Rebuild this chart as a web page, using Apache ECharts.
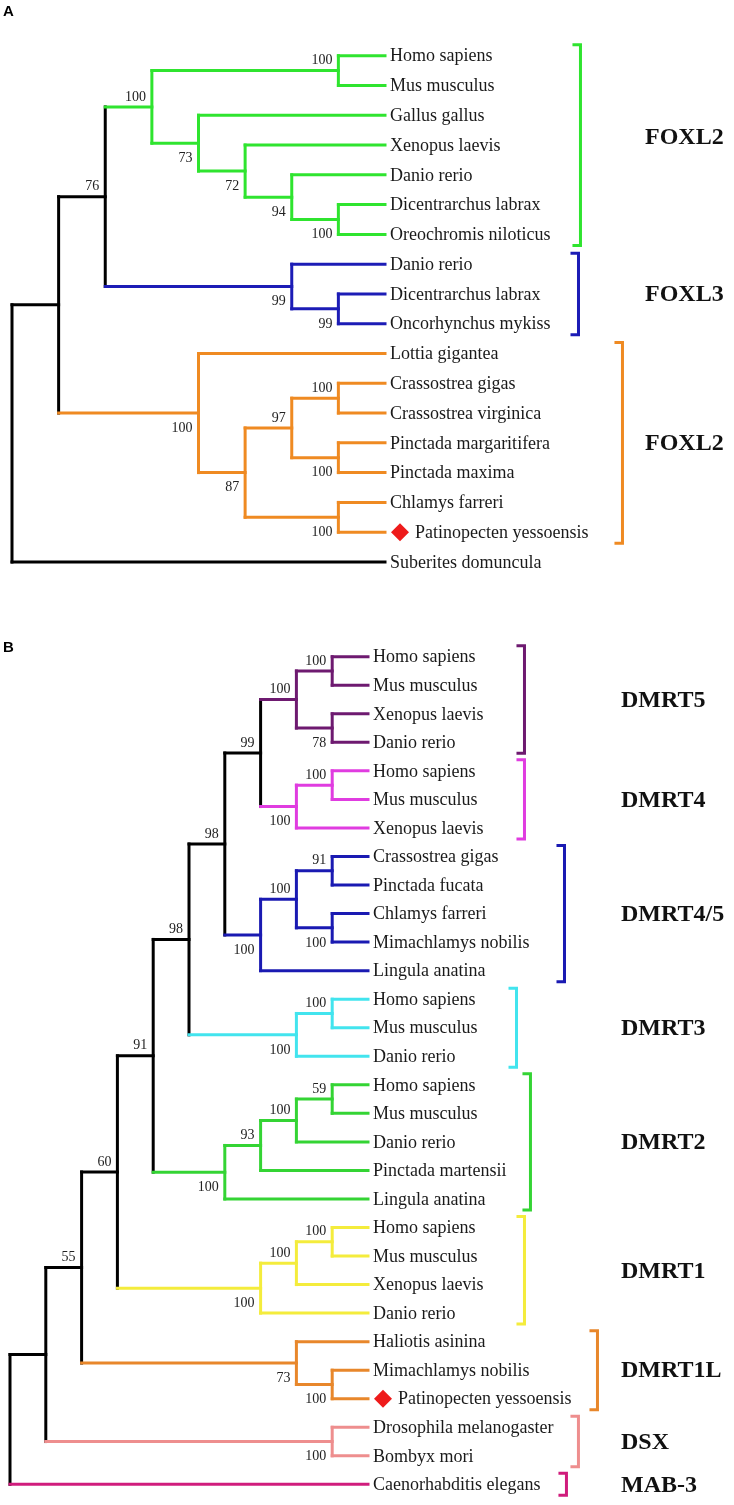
<!DOCTYPE html>
<html><head><meta charset="utf-8">
<script src="https://cdn.jsdelivr.net/npm/echarts@6/dist/echarts.min.js"></script>
<style>html,body{margin:0;padding:0;background:#fff}#c{width:734px;height:1505px}</style>
</head><body><div id="c"></div>
<script>
// ---------- DATA ----------
// Topologies (cladograms) with bootstrap support values as internal node labels
const newickA = "(((((Homo sapiens,Mus musculus)100,(Gallus gallus,(Xenopus laevis,(Danio rerio,(Dicentrarchus labrax,Oreochromis niloticus)100)94)72)73)100,(Danio rerio,(Dicentrarchus labrax,Oncorhynchus mykiss)99)99)76,(Lottia gigantea,(((Crassostrea gigas,Crassostrea virginica)100,(Pinctada margaritifera,Pinctada maxima)100)97,(Chlamys farreri,Patinopecten yessoensis)100)87)100),Suberites domuncula)";
const groupNamesA = ['FOXL2', 'FOXL3', 'FOXL2'];
const groupFirstA = [0, 7, 10];
const groupLastA  = [6, 9, 16];

const newickB = "((((((((((Homo sapiens,Mus musculus)100,(Xenopus laevis,Danio rerio)78)100,((Homo sapiens,Mus musculus)100,Xenopus laevis)100)99,(((Crassostrea gigas,Pinctada fucata)91,(Chlamys farreri,Mimachlamys nobilis)100)100,Lingula anatina)100)98,((Homo sapiens,Mus musculus)100,Danio rerio)100)98,((((Homo sapiens,Mus musculus)59,Danio rerio)100,Pinctada martensii)93,Lingula anatina)100)91,(((Homo sapiens,Mus musculus)100,Xenopus laevis)100,Danio rerio)100)60,(Haliotis asinina,(Mimachlamys nobilis,Patinopecten yessoensis)100)73)55,(Drosophila melanogaster,Bombyx mori)100),Caenorhabditis elegans)";
const groupNamesB = ['DMRT5', 'DMRT4', 'DMRT4/5', 'DMRT3', 'DMRT2', 'DMRT1', 'DMRT1L', 'DSX', 'MAB-3'];
const groupFirstB = [0, 4, 7, 12, 15, 20, 24, 27, 29];
const groupLastB  = [3, 6, 11, 14, 19, 23, 26, 28, 29];

const markedLeaves = ['Patinopecten yessoensis'];

// ---------- STYLE ----------
const groupColorsA = ['#2fe42f', '#1c1cb6', '#ef8a22'];
const groupColorsB = ['#6e1a70', '#e03ce0', '#1a1ab2', '#42e4ee', '#34d434', '#f4ec3c', '#e8872b', '#ee8e8e', '#d01c7c'];
const bracketNudgeA = [0, -2, 4];
const bracketNudgeB = [11, 11, 5, 9, -6, 11, -4, -5, -4];
const labelNudgeA = [-8, 0, 0];
const labelNudgeB = [0, 0, 0, 0, 0, 0, 0, 0, 0];
const LEAF_FONT = '18px "Liberation Serif"';
const BOOT_FONT = '14px "Liberation Serif"';
const GROUP_FONT = 'bold 24px "Liberation Serif"';
const LW = 3;

const measureCtx = document.createElement('canvas').getContext('2d');
function textW(t, font) { measureCtx.font = font; return measureCtx.measureText(t).width; }

function parseNewick(s) {
  let i = 0;
  function node() {
    const n = { children: [], label: '' };
    if (s[i] === '(') {
      i++;
      n.children.push(node());
      while (s[i] === ',') { i++; n.children.push(node()); }
      i++;
    }
    let lab = '';
    while (i < s.length && !',()'.includes(s[i])) lab += s[i++];
    n.label = lab.trim();
    return n;
  }
  return node();
}

function buildTree(newick, first, last) {
  const root = parseNewick(newick);
  const leaves = [];
  (function h(n) { n.h = n.children.length ? 1 + Math.max(...n.children.map(h)) : 0; return n.h; })(root);
  const H = root.h;
  (function place(n) {
    n.x = H - n.h;
    if (!n.children.length) { n.y = leaves.length; leaves.push(n); }
    else { n.children.forEach(place); n.y = (n.children[0].y + n.children[n.children.length - 1].y) / 2; }
  })(root);
  leaves.forEach((l, i) => { l.g = -1; for (let k = 0; k < first.length; k++) if (i >= first[k] && i <= last[k]) l.g = k; });
  (function grp(n) {
    if (!n.children.length) return n.g;
    const gs = n.children.map(grp);
    n.g = gs.every(g => g === gs[0]) ? gs[0] : -1;
    return n.g;
  })(root);
  const segs = [], boots = [], bootText = [];
  (function walk(n) {
    if (!n.children.length) return;
    const c0 = n.children[0], cl = n.children[n.children.length - 1];
    segs.push([n.x, c0.y, n.x, cl.y, n.g]);
    n.children.forEach((c, ci) => {
      segs.push([n.x, c.y, c.x, c.y, c.g]);
      if (c.children.length && c.label) { boots.push([c.x, c.y, ci === 0 ? 0 : 1]); bootText.push(c.label); }
      walk(c);
    });
  })(root);
  const leafData = leaves.map((l, i) => [H, i, markedLeaves.includes(l.label) ? 1 : 0]);
  const leafNames = leaves.map(l => l.label);
  return { H, n: leaves.length, segs, boots, bootText, leafData, leafNames };
}

const TA = buildTree(newickA, groupFirstA, groupLastA);
const TB = buildTree(newickB, groupFirstB, groupLastB);

function labelWidth(name, marked) { return textW(name, LEAF_FONT) + (marked ? 25 : 0); }

function panelSeries(T, idx, names, first, last, colors, nudge, lnudge, groupLabelX) {
  const col = g => g < 0 ? '#000' : colors[g];
  const ax = { xAxisIndex: idx, yAxisIndex: idx, coordinateSystem: 'cartesian2d', clip: false, silent: true };
  return [
    Object.assign({
      type: 'custom', data: T.segs, encode: { x: [0, 2], y: [1, 3] },
      renderItem: (p, api) => {
        const a = api.coord([api.value(0), api.value(1)]);
        const b = api.coord([api.value(2), api.value(3)]);
        return { type: 'line', shape: { x1: a[0], y1: a[1], x2: b[0], y2: b[1] },
          style: { stroke: col(api.value(4)), lineWidth: LW, lineCap: 'square' } };
      }
    }, ax),
    Object.assign({
      type: 'custom', data: T.boots, encode: { x: 0, y: 1 },
      renderItem: (p, api) => {
        const a = api.coord([api.value(0), api.value(1)]);
        const below = api.value(2) === 1;
        return { type: 'text', x: a[0] - 6, y: below ? a[1] + 8 : a[1] - 3,
          style: { text: T.bootText[p.dataIndex], font: BOOT_FONT, fill: '#222', align: 'right', verticalAlign: below ? 'top' : 'bottom' } };
      }
    }, ax),
    Object.assign({
      type: 'custom', data: T.leafData, encode: { x: 0, y: 1 },
      renderItem: (p, api) => {
        const a = api.coord([api.value(0), api.value(1)]);
        const marked = api.value(2) === 1;
        const ch = [];
        let tx = a[0] + 5;
        if (marked) {
          const cx = a[0] + 15, cy = a[1];
          ch.push({ type: 'polygon', shape: { points: [[cx, cy - 9], [cx + 9, cy], [cx, cy + 9], [cx - 9, cy]] }, style: { fill: '#ee1b1b' } });
          tx = a[0] + 30;
        }
        ch.push({ type: 'text', x: tx, y: a[1] + 1, style: { text: T.leafNames[p.dataIndex], font: LEAF_FONT, fill: '#1a1a1a', align: 'left', verticalAlign: 'middle' } });
        return { type: 'group', children: ch };
      }
    }, ax),
    Object.assign({
      type: 'custom', data: names.map((n, k) => [T.H, first[k], last[k]]), encode: { x: 0, y: 1 },
      renderItem: (p, api) => {
        const k = p.dataIndex;
        const top = api.coord([T.H, first[k]]);
        const bot = api.coord([T.H, last[k]]);
        let mw = 0;
        for (let i = first[k]; i <= last[k]; i++) mw = Math.max(mw, labelWidth(T.leafNames[i], T.leafData[i][2] === 1));
        const bx = top[0] + 5 + mw + 30 + nudge[k];
        const y1 = top[1] - 11, y2 = bot[1] + 11;
        const cy = (top[1] + bot[1]) / 2 + lnudge[k];
        return { type: 'group', children: [
          { type: 'polyline', shape: { points: [[bx - 8, y1], [bx, y1], [bx, y2], [bx - 8, y2]] },
            style: { stroke: colors[k], lineWidth: LW, fill: null, lineJoin: 'miter' } },
          { type: 'text', x: groupLabelX, y: cy + 1, style: { text: names[k], font: GROUP_FONT, fill: '#111', align: 'left', verticalAlign: 'middle' } }
        ] };
      }
    }, ax)
  ];
}

const chart = echarts.init(document.getElementById('c'), null, { renderer: 'canvas' });
const spA = 29.78, spB = 28.54;
chart.setOption({
  animation: false,
  backgroundColor: '#fff',
  grid: [
    { left: 12, top: 55.7, width: 373, height: (TA.n - 1) * spA },
    { left: 10, top: 656.7, width: 358, height: (TB.n - 1) * spB }
  ],
  xAxis: [
    { gridIndex: 0, type: 'value', min: 0, max: TA.H, show: false },
    { gridIndex: 1, type: 'value', min: 0, max: TB.H, show: false }
  ],
  yAxis: [
    { gridIndex: 0, type: 'value', min: 0, max: TA.n - 1, inverse: true, show: false },
    { gridIndex: 1, type: 'value', min: 0, max: TB.n - 1, inverse: true, show: false }
  ],
  graphic: [
    { type: 'text', left: 3, top: 4, style: { text: 'A', font: 'bold 15px "Liberation Sans"', fill: '#000' } },
    { type: 'text', left: 3, top: 640, style: { text: 'B', font: 'bold 15px "Liberation Sans"', fill: '#000' } }
  ],
  series: [].concat(
    panelSeries(TA, 0, groupNamesA, groupFirstA, groupLastA, groupColorsA, bracketNudgeA, labelNudgeA, 645),
    panelSeries(TB, 1, groupNamesB, groupFirstB, groupLastB, groupColorsB, bracketNudgeB, labelNudgeB, 621)
  )
});
</script></body></html>
